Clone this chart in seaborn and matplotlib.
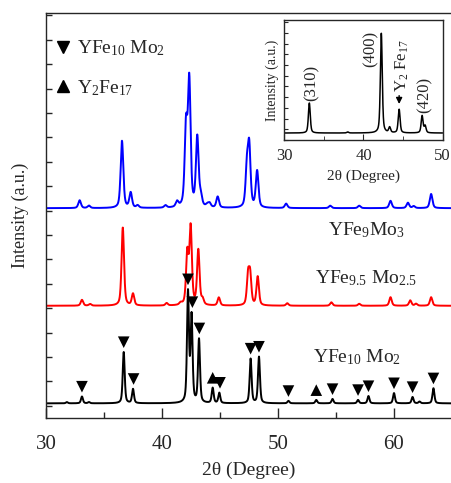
import numpy as np
import pandas as pd
import matplotlib
matplotlib.use("Agg")
import matplotlib.pyplot as plt
from matplotlib.lines import Line2D
from matplotlib.ticker import MultipleLocator
import seaborn as sns

# peak lists (2theta in degrees, height above baseline in a.u.)
blue_pos = [32.9, 33.7, 36.55, 37.3, 37.9, 40.3, 41.3, 42.07, 42.35, 43.04, 43.34, 43.9, 44.1, 44.8,
            47.32, 47.52, 48.2, 50.7, 54.5, 57.0, 59.7, 61.2, 61.7, 63.2]
blue_hgt = [0.32, 0.1, 2.75, 0.62, 0.1, 0.1, 0.22, 3.2, 5.1, 2.85, 0.4, 0.1, 0.16, 0.45,
            1.55, 2.4, 1.5, 0.18, 0.1, 0.1, 0.3, 0.22, 0.08, 0.58]
red_pos = [33.1, 33.8, 36.62, 37.5, 40.4, 41.6, 42.18, 42.47, 43.13, 43.5, 44.9,
           47.42, 47.6, 48.25, 50.8, 54.6, 57.0, 59.7, 61.4, 61.9, 63.2]
red_hgt = [0.24, 0.07, 3.2, 0.48, 0.1, 0.08, 2.1, 3.15, 2.25, 0.22, 0.33,
           1.18, 1.18, 1.18, 0.1, 0.14, 0.08, 0.35, 0.22, 0.08, 0.35]
black_pos = [31.8, 33.1, 33.7, 36.7, 37.5, 42.24, 42.55, 43.19, 44.37, 44.94,
             47.64, 48.36, 50.9, 53.3, 54.7, 56.9, 57.8, 60.0, 61.6, 62.2, 63.4]
black_hgt = [0.05, 0.28, 0.05, 2.1, 0.58, 4.5, 3.5, 2.6, 0.62, 0.42,
             1.82, 1.9, 0.1, 0.14, 0.18, 0.14, 0.3, 0.42, 0.26, 0.07, 0.62]
samples = ["YFe9Mo3", "YFe9.5Mo2.5", "YFe10Mo2"]
sample_labels = ["YFe$_9$Mo$_3$", "YFe$_{9.5}$ Mo$_{2.5}$", "YFe$_{10}$ Mo$_2$"]
offsets = [8.1, 4.1, 0.1]
colors = ["#0000ff", "#ff0000", "#000000"]

# reflections marked on the YFe10Mo2 pattern
yfe10_marks = [33.1, 36.7, 37.55, 42.24, 42.62, 43.22, 45.0, 47.64, 48.36,
               50.9, 54.7, 56.9, 57.8, 60.0, 61.6, 63.4]
y2fe17_marks = [44.37, 53.3]

# inset pattern
inset_pos = [33.16, 38.0, 42.25, 43.3, 44.5, 47.4, 47.78]
inset_hgt = [2.8, 0.1, 9.3, 0.5, 2.2, 1.6, 0.65]
inset_base = 0.65
inset_labels = ["(310)", "(400)", "Y$_2$ Fe$_{17}$", "(420)"]


def pattern(x, pos, hgt, w, eta=0.5):
    y = np.zeros_like(x)
    for c, h in zip(pos, hgt):
        d = (x - c) / w
        y += h * (eta / (1 + 4 * d ** 2) + (1 - eta) * np.exp(-4 * np.log(2) * d ** 2))
    return y


tt = np.arange(30.0, 65.0, 0.01)
widths = [0.27, 0.25, 0.2]
peaks = [(blue_pos, blue_hgt), (red_pos, red_hgt), (black_pos, black_hgt)]
frames = []
for name, (p, h), w, off in zip(samples, peaks, widths, offsets):
    frames.append(pd.DataFrame({"two_theta": tt,
                                "intensity": pattern(tt, p, h, w) + off,
                                "sample": name}))
df = pd.concat(frames, ignore_index=True)

black = df[df["sample"] == "YFe10Mo2"]
rows = []
for phase, marks in [("YFe10Mo2", yfe10_marks), ("Y2Fe17", y2fe17_marks)]:
    for m in marks:
        near = black[(black["two_theta"] > m - 0.08) & (black["two_theta"] < m + 0.08)]
        rows.append({"two_theta": m, "y": near["intensity"].max() + 0.4, "phase": phase})
marks_df = pd.DataFrame(rows)

tti = np.arange(30.0, 50.0, 0.01)
inset_df = pd.DataFrame({"two_theta": tti,
                         "intensity": pattern(tti, inset_pos, inset_hgt, 0.28) + inset_base})

sns.set_style("ticks")
plt.rcParams["font.family"] = ["Liberation Serif", "DejaVu Serif"]
plt.rcParams["mathtext.fontset"] = "custom"
plt.rcParams["mathtext.rm"] = "Liberation Serif"
plt.rcParams["mathtext.it"] = "Liberation Serif:italic"
plt.rcParams["axes.linewidth"] = 1.0

fig = plt.figure(figsize=(4.52, 4.83), dpi=100)
ax = fig.add_axes([46 / 452, 1 - 418 / 483, 1 - 46 / 452, 405 / 483])

sns.lineplot(data=df, x="two_theta", y="intensity", hue="sample",
             palette=dict(zip(samples, colors)), estimator=None, sort=False,
             legend=False, linewidth=1.4, ax=ax)
sns.scatterplot(data=marks_df, x="two_theta", y="y", style="phase",
                markers={"YFe10Mo2": "v", "Y2Fe17": "^"}, color="black",
                edgecolor="black", linewidth=0, s=70, legend=False, ax=ax, zorder=5)

ax.set_xlim(30, 65)
ax.set_ylim(-0.5, 16.1)
ax.xaxis.set_major_locator(MultipleLocator(10))
ax.xaxis.set_minor_locator(MultipleLocator(5))
ax.yaxis.set_major_locator(MultipleLocator(1))
ax.tick_params(axis="x", which="major", direction="in", length=7, width=1, labelsize=15, pad=12)
ax.tick_params(axis="x", which="minor", direction="in", length=4, width=1)
ax.tick_params(axis="y", which="major", direction="in", length=4, width=1, labelleft=False)
ax.spines["right"].set_visible(False)
ax.set_xlabel("2θ (Degree)", fontsize=14, labelpad=6)
ax.set_ylabel("Intensity (a.u.)", fontsize=13, labelpad=12)

for lab, xs, yb in zip(sample_labels, [54.3, 53.2, 53.0], [7.0, 5.03, 1.77]):
    ax.text(xs, yb, lab, fontsize=14, ha="left", va="baseline")

handles = [Line2D([], [], marker="v", color="black", linestyle="none", markersize=9),
           Line2D([], [], marker="^", color="black", linestyle="none", markersize=9)]
ax.legend(handles, ["YFe$_{10}$ Mo$_2$", "Y$_2$Fe$_{17}$"], loc="upper left",
          bbox_to_anchor=(-0.015, 0.975), frameon=False, fontsize=14,
          handlelength=0.8, handletextpad=0.3, labelspacing=1.0, borderaxespad=0.4)

# inset
axi = fig.add_axes([284.3 / 452, 1 - 140 / 483, 158.4 / 452, 120 / 483])
sns.lineplot(data=inset_df, x="two_theta", y="intensity", color="black",
             linewidth=1.1, estimator=None, sort=False, ax=axi)
axi.set_xlim(30, 50)
axi.set_ylim(0, 11.2)
axi.xaxis.set_major_locator(MultipleLocator(10))
axi.xaxis.set_minor_locator(MultipleLocator(5))
axi.yaxis.set_major_locator(MultipleLocator(1))
axi.tick_params(axis="x", which="major", direction="in", length=4, labelsize=12, pad=6)
axi.tick_params(axis="x", which="minor", direction="in", length=3)
axi.tick_params(axis="y", direction="in", length=3, labelleft=False)
axi.set_xlabel("2θ (Degree)", fontsize=11, labelpad=4)
axi.set_ylabel("Intensity (a.u.)", fontsize=10, labelpad=4)
for lab, xs, ys in zip(inset_labels, [33.5, 40.9, 44.95, 47.77], [5.33, 8.5, 6.9, 4.25]):
    axi.text(xs, ys, lab, rotation=90, fontsize=12, ha="center", va="center")
axi.annotate("", xy=(44.5, 3.1), xytext=(44.5, 4.4),
             arrowprops=dict(arrowstyle="-|>", color="black", lw=1.0, mutation_scale=9))

fig.savefig("out.png", dpi=100)
